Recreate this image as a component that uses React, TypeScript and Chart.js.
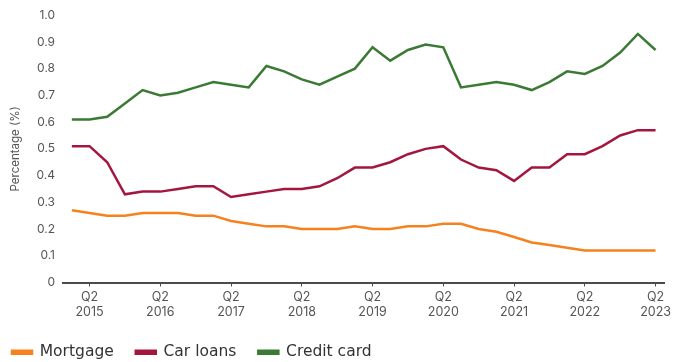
import React, { useEffect, useRef } from "react";
import { Chart, registerables } from "chart.js";

Chart.register(...registerables);

const quarters: string[] = [];
for (let y = 2015; y <= 2023; y++) {
  for (let q = 1; q <= 4; q++) {
    if (y === 2023 && q > 2) break;
    quarters.push(`Q${q} ${y}`);
  }
}

const mortgage = [
  0.27, 0.26, 0.25, 0.25, 0.26, 0.26, 0.26, 0.25, 0.25, 0.23, 0.22, 0.21, 0.21, 0.2, 0.2, 0.2, 0.21,
  0.2, 0.2, 0.21, 0.21, 0.22, 0.22, 0.2, 0.19, 0.17, 0.15, 0.14, 0.13, 0.12, 0.12, 0.12, 0.12, 0.12,
];
const carLoans = [
  0.51, 0.51, 0.45, 0.33, 0.34, 0.34, 0.35, 0.36, 0.36, 0.32, 0.33, 0.34, 0.35, 0.35, 0.36, 0.39, 0.43,
  0.43, 0.45, 0.48, 0.5, 0.51, 0.46, 0.43, 0.42, 0.38, 0.43, 0.43, 0.48, 0.48, 0.51, 0.55, 0.57, 0.57,
];
const creditCard = [
  0.61, 0.61, 0.62, 0.67, 0.72, 0.7, 0.71, 0.73, 0.75, 0.74, 0.73, 0.81, 0.79, 0.76, 0.74, 0.77, 0.8,
  0.88, 0.83, 0.87, 0.89, 0.88, 0.73, 0.74, 0.75, 0.74, 0.72, 0.75, 0.79, 0.78, 0.81, 0.86, 0.93, 0.87,
];

const seriesNames = ["Mortgage", "Car loans", "Credit card"];
const seriesColors = ["#F5821F", "#A3173F", "#3B7A35"];
const yTitle = "Percentage (%)";
const FONT = "Inter, 'Open Sans', sans-serif";
const LEGEND_FONT = "'DejaVu Sans', Inter, sans-serif";

const legendShift = {
  id: "legendShift",
  afterLayout(chart: any) {
    const l = chart.legend;
    if (l) {
      l.left -= 12;
      l.right -= 12;
    }
  },
};

export default function App() {
  const ref = useRef<HTMLCanvasElement | null>(null);
  useEffect(() => {
    document.body.style.margin = "0";
    const values = [mortgage, carLoans, creditCard];
    const chart = new Chart(ref.current!, {
      type: "line",
      data: {
        labels: quarters,
        datasets: seriesNames.map((name, i) => ({
          label: name,
          data: values[i],
          borderColor: seriesColors[i],
          backgroundColor: seriesColors[i],
          borderWidth: 2.5,
          pointRadius: 0,
          tension: 0,
        })),
      },
      plugins: [legendShift],
      options: {
        animation: false,
        responsive: false,
        layout: { padding: { left: 2, top: 14, right: 1, bottom: -8 } },
        plugins: {
          tooltip: { enabled: false },
          legend: {
            position: "bottom",
            align: "start",
            labels: {
              boxWidth: 20,
              boxHeight: 3,
              padding: 22,
              color: "#333",
              font: { family: LEGEND_FONT, size: 15.5 },
            },
          },
        },
        scales: {
          x: {
            type: "category",
            offset: true,
            border: { display: true, color: "#4a4a4a", width: 2 },
            grid: {
              display: true,
              drawOnChartArea: false,
              offset: false,
              tickLength: 4,
              color: (ctx: any) => ((ctx.index ?? 0) % 4 === 1 ? "#4a4a4a" : "rgba(0,0,0,0)"),
            },
            ticks: {
              autoSkip: false,
              maxRotation: 0,
              padding: 3,
              color: "#555",
              font: { family: FONT, size: 12.5 },
              callback: (_v: any, i: number) => {
                if (i % 4 !== 1) return "";
                const parts = quarters[i].split(" ");
                return [parts[0], parts[1]];
              },
            },
          },
          y: {
            min: 0,
            max: 1,
            border: { display: false },
            grid: { display: false, drawTicks: false },
            title: {
              display: true,
              text: yTitle,
              color: "#555",
              font: { family: FONT, size: 11.5 },
              padding: { top: 7, bottom: 0 },
            },
            ticks: {
              stepSize: 0.1,
              padding: 8,
              color: "#555",
              font: { family: FONT, size: 12 },
              callback: (v: any) => (Number(v) === 0 ? "0" : Number(v).toFixed(1)),
            },
            afterFit: (scale: any) => {
              scale.width = 61;
            },
          },
        },
      },
    });
    return () => chart.destroy();
  }, []);
  return (
    <div style={{ width: 674, height: 362 }}>
      <canvas ref={ref} width={674} height={362} style={{ display: "block" }} />
    </div>
  );
}
